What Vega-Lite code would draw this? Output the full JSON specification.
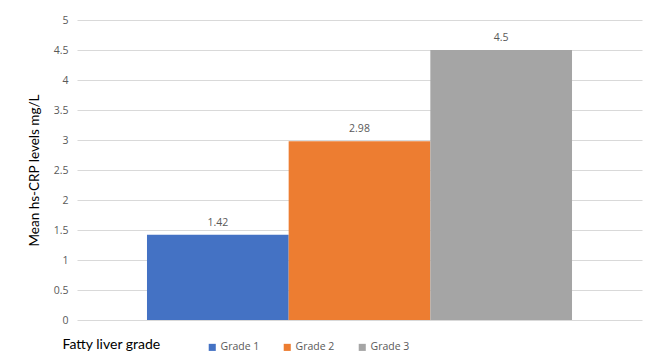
{
  "$schema": "https://vega.github.io/schema/vega-lite/v6.json",
  "width": 565,
  "height": 300,
  "autosize": "none",
  "padding": {"left": 77, "top": 20, "right": 5, "bottom": 42},
  "background": "white",
  "config": {"view": {"stroke": null}},
  "data": {"values": [
    {"grade": "Grade 1", "value": 1.42},
    {"grade": "Grade 2", "value": 2.98},
    {"grade": "Grade 3", "value": 4.5}
  ]},
  "encoding": {
    "x": {"field": "grade", "type": "nominal", "sort": null,
      "scale": {"paddingInner": 0, "paddingOuter": 0.494},
      "axis": {"title": "Fatty liver grade", "labels": false, "ticks": false, "domain": false,
        "titleFont": "Lato", "titleFontSize": 14, "titleFontWeight": "normal", "titleColor": "#000000",
        "titleX": -15, "titleY": 24, "titleAnchor": "start", "titleAlign": "left", "titleBaseline": "middle"}},
    "y": {"field": "value", "type": "quantitative",
      "scale": {"domain": [0, 5], "nice": false},
      "axis": {"title": "Mean hs-CRP levels mg/L", "values": [0, 0.5, 1, 1.5, 2, 2.5, 3, 3.5, 4, 4.5, 5],
        "format": "~g",
        "ticks": false, "domain": false, "labelPadding": 9, "labelFont": "Open Sans", "labelFontSize": 10.5,
        "labelColor": "#595959", "gridColor": "#d9d9d9", "gridWidth": 1,
        "titleFont": "Lato", "titleFontSize": 13.5, "titleFontWeight": "normal", "titleColor": "#000000",
        "titlePadding": 12}}
  },
  "layer": [
    {"mark": {"type": "bar"},
      "encoding": {"color": {"field": "grade", "type": "nominal", "sort": null,
        "scale": {"range": ["#4472C4", "#ED7D31", "#A5A5A5"]},
        "legend": {"title": null, "orient": "none", "legendX": 130, "legendY": 322, "direction": "horizontal",
          "symbolType": "square", "symbolSize": 50, "symbolStrokeWidth": 0, "labelFont": "Open Sans", "labelFontSize": 10.5,
          "labelColor": "#595959", "labelOffset": 3, "columnPadding": 22}}}},
    {"mark": {"type": "text", "dy": -7, "baseline": "bottom", "font": "Open Sans", "fontSize": 10.5, "color": "#595959"},
      "encoding": {"text": {"field": "value", "type": "quantitative"}}}
  ]
}
